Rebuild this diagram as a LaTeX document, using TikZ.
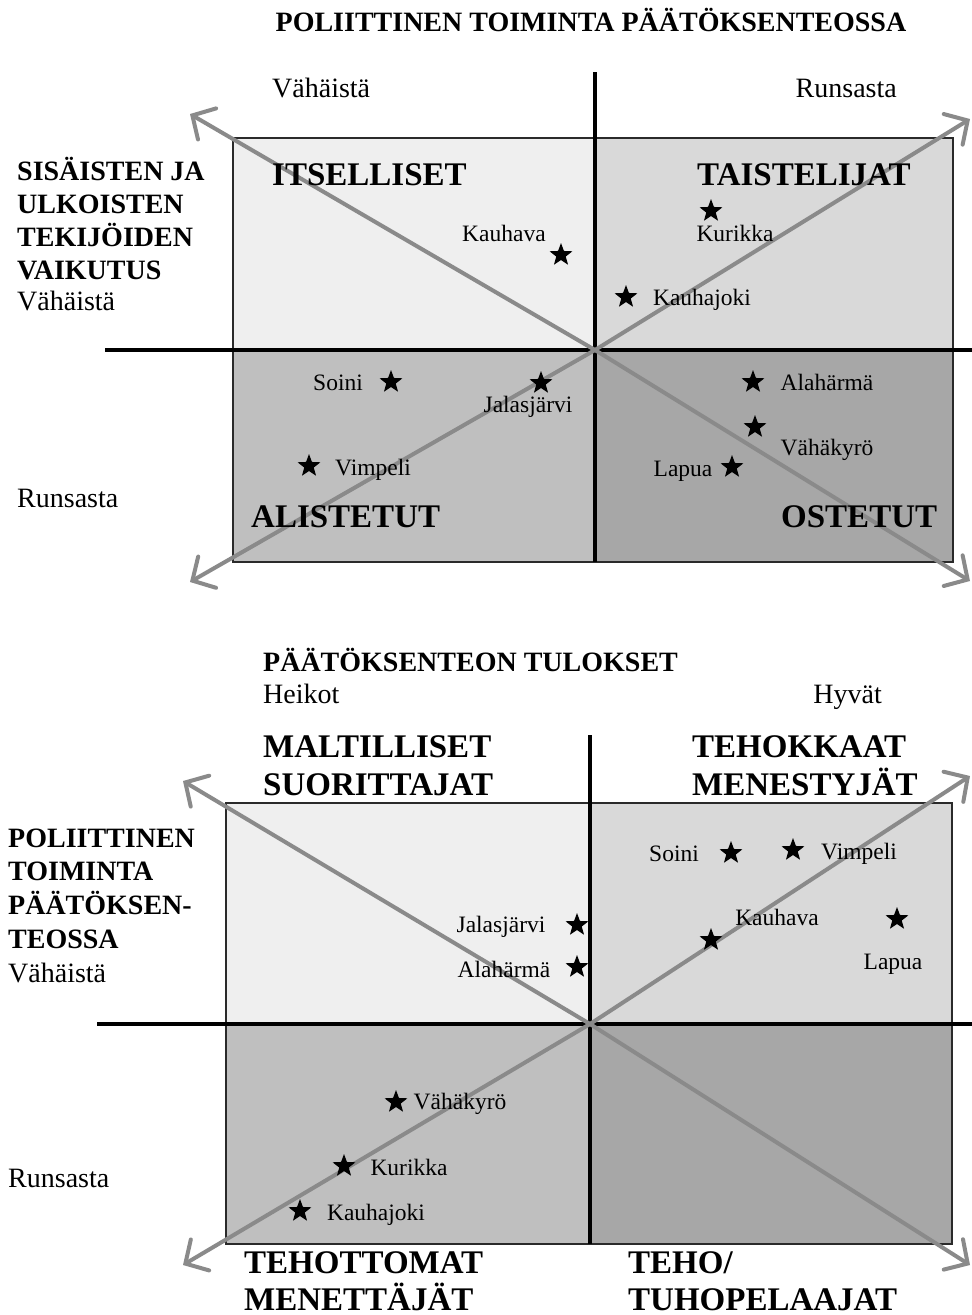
\documentclass[tikz,border=0pt]{standalone}
\usepackage{fontspec}
\setmainfont{Liberation Serif}
\usetikzlibrary{arrows.meta,shapes.geometric}
\definecolor{qa}{HTML}{EFEFEF}
\definecolor{qb}{HTML}{D9D9D9}
\definecolor{qc}{HTML}{BFBFBF}
\definecolor{qd}{HTML}{A7A7A7}
\definecolor{arrg}{HTML}{8A8A8A}
\definecolor{bord}{HTML}{2A2A2A}
\tikzset{
  tx/.style={inner sep=0, font=\fontsize{28}{28}\selectfont},
  bx/.style={inner sep=0, font=\fontsize{28}{28}\selectfont\bfseries},
  qx/.style={inner sep=0, font=\fontsize{33}{33}\selectfont\bfseries},
  sx/.style={inner sep=0, font=\fontsize{23.5}{23.5}\selectfont, anchor=base},
  st/.style={star, star points=5, star point ratio=2.4, fill=black, draw=none, inner sep=0, minimum size=24pt},
  quad/.style={draw=bord, line width=1.5pt},
  axis/.style={draw=black, line width=3.5pt},
  arr/.style={draw=arrg, line width=4pt, line cap=round, -{Straight Barb[length=17pt, width=36pt, line cap=round]}},
}
\begin{document}
\begin{tikzpicture}[x=1pt,y=-1pt]
\useasboundingbox (0,0) rectangle (972,1315);
% ===== Chart 1 =====
\coordinate (c1) at (595,350);
\coordinate (a1tl) at (190,114);
\coordinate (a1br) at (970,581);
\coordinate (a1bl) at (190,582);
\coordinate (a1tr) at (970,119);
\filldraw[quad, fill=qa] (233,138) rectangle (595,350);
\filldraw[quad, fill=qb] (595,138) rectangle (953,350);
\filldraw[quad, fill=qc] (233,350) rectangle (595,562);
\filldraw[quad, fill=qd] (595,350) rectangle (953,562);
\coordinate (v1t) at (595,72);
\coordinate (v1b) at (595,562);
\coordinate (h1l) at (105,350);
\coordinate (h1r) at (972,350);
\draw[axis] (v1t) -- (v1b);
\draw[axis] (h1l) -- (h1r);
\draw[arr] (c1) -- (a1tl);
\draw[arr] (c1) -- (a1br);
\draw[arr] (c1) -- (a1bl);
\draw[arr] (c1) -- (a1tr);

\node[bx, anchor=base] (t1) at (591,31) {POLIITTINEN TOIMINTA PÄÄTÖKSENTEOSSA};
\node[tx, anchor=base west] (t1l) at (272,97) {Vähäistä};
\node[tx, anchor=base east] (t1r) at (897,97) {Runsasta};
\node[bx, anchor=base west] (l1a) at (17,180) {SISÄISTEN JA};
\node[bx, anchor=base west] (l1b) at (17,213) {ULKOISTEN};
\node[bx, anchor=base west] (l1c) at (17,246) {TEKIJÖIDEN};
\node[bx, anchor=base west] (l1d) at (17,279) {VAIKUTUS};
\node[tx, anchor=base west] (l1e) at (17,310) {Vähäistä};
\node[tx, anchor=base west] (l1f) at (17,507) {Runsasta};

\node[qx, anchor=base west] (q1a) at (272,185) {ITSELLISET};
\node[qx, anchor=base west] (q1b) at (697,185) {TAISTELIJAT};
\node[qx, anchor=base west] (q1c) at (251,527) {ALISTETUT};
\node[qx, anchor=base west] (q1d) at (781,527) {OSTETUT};

\node[st] (s1a) at (561,255) {};
\node[sx] (n1a) at (504,241) {Kauhava};
\node[st] (s1b) at (711,211) {};
\node[sx] (n1b) at (735,241) {Kurikka};
\node[st] (s1c) at (626,297) {};
\node[sx] (n1c) at (702,305) {Kauhajoki};
\node[st] (s1d) at (391,382) {};
\node[sx] (n1d) at (338,390) {Soini};
\node[st] (s1e) at (541,383) {};
\node[sx] (n1e) at (528,412) {Jalasjärvi};
\node[st] (s1f) at (309,466) {};
\node[sx] (n1f) at (373,475) {Vimpeli};
\node[st] (s1g) at (753,382) {};
\node[sx] (n1g) at (827,390) {Alahärmä};
\node[st] (s1h) at (755,427) {};
\node[sx] (n1h) at (827,455) {Vähäkyrö};
\node[st] (s1i) at (732,467) {};
\node[sx] (n1i) at (683,476) {Lapua};

% ===== Chart 2 =====
\coordinate (c2) at (590,1024);
\coordinate (a2tl) at (183,781);
\coordinate (a2br) at (970,1265);
\coordinate (a2bl) at (183,1265);
\coordinate (a2tr) at (970,776);
\filldraw[quad, fill=qa] (226,803) rectangle (590,1024);
\filldraw[quad, fill=qb] (590,803) rectangle (952,1024);
\filldraw[quad, fill=qc] (226,1024) rectangle (590,1244);
\filldraw[quad, fill=qd] (590,1024) rectangle (952,1244);
\coordinate (v2t) at (590,735);
\coordinate (v2b) at (590,1244);
\coordinate (h2l) at (97,1024);
\coordinate (h2r) at (972,1024);
\draw[axis] (v2t) -- (v2b);
\draw[axis] (h2l) -- (h2r);
\draw[arr] (c2) -- (a2tl);
\draw[arr] (c2) -- (a2br);
\draw[arr] (c2) -- (a2bl);
\draw[arr] (c2) -- (a2tr);

\node[bx, anchor=base west] (t2) at (263,671) {PÄÄTÖKSENTEON TULOKSET};
\node[tx, anchor=base west] (t2l) at (263,703) {Heikot};
\node[tx, anchor=base east] (t2r) at (882,703) {Hyvät};
\node[bx, anchor=base west] (l2a) at (8,847) {POLIITTINEN};
\node[bx, anchor=base west] (l2b) at (8,880) {TOIMINTA};
\node[bx, anchor=base west] (l2c) at (8,914) {PÄÄTÖKSEN-};
\node[bx, anchor=base west] (l2d) at (8,948) {TEOSSA};
\node[tx, anchor=base west] (l2e) at (8,982) {Vähäistä};
\node[tx, anchor=base west] (l2f) at (8,1187) {Runsasta};

\node[qx, anchor=base west] (q2a) at (263,757) {MALTILLISET};
\node[qx, anchor=base west] (q2b) at (263,795) {SUORITTAJAT};
\node[qx, anchor=base west] (q2c) at (692,757) {TEHOKKAAT};
\node[qx, anchor=base west] (q2d) at (692,795) {MENESTYJÄT};
\node[qx, anchor=base west] (q2e) at (244,1273) {TEHOTTOMAT};
\node[qx, anchor=base west] (q2f) at (244,1310) {MENETTÄJÄT};
\node[qx, anchor=base west] (q2g) at (628,1273) {TEHO/};
\node[qx, anchor=base west] (q2h) at (628,1310) {TUHOPELAAJAT};

\node[st] (s2a) at (731,853) {};
\node[sx] (n2a) at (674,861) {Soini};
\node[st] (s2b) at (793,850) {};
\node[sx] (n2b) at (859,859) {Vimpeli};
\node[st] (s2c) at (711,940) {};
\node[sx] (n2c) at (777,925) {Kauhava};
\node[st] (s2d) at (897,919) {};
\node[sx] (n2d) at (893,969) {Lapua};
\node[st] (s2e) at (577,925) {};
\node[sx] (n2e) at (501,932) {Jalasjärvi};
\node[st] (s2f) at (577,967) {};
\node[sx] (n2f) at (504,977) {Alahärmä};
\node[st] (s2g) at (396,1102) {};
\node[sx] (n2g) at (460,1109) {Vähäkyrö};
\node[st] (s2h) at (344,1166) {};
\node[sx] (n2h) at (409,1175) {Kurikka};
\node[st] (s2i) at (300,1211) {};
\node[sx] (n2i) at (376,1220) {Kauhajoki};
\end{tikzpicture}
\end{document}
